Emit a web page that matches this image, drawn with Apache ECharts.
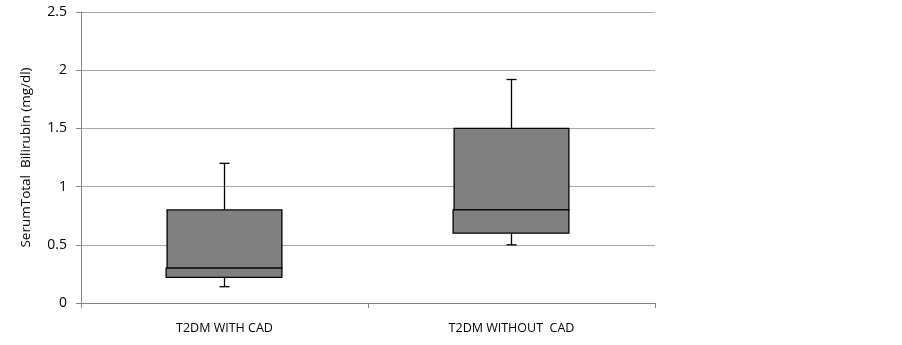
<!DOCTYPE html>
<html>
<head>
<meta charset="utf-8">
<script src="https://cdn.jsdelivr.net/npm/echarts@6/dist/echarts.min.js"></script>
<style>html,body{margin:0;padding:0;background:#fff;}#c{width:902px;height:345px;}</style>
</head>
<body>
<div id="c"></div>
<script>
var categories = ['T2DM WITH CAD', 'T2DM WITHOUT  CAD'];
var mins = [0.14, 0.50];
var q1s = [0.22, 0.60];
var medians = [0.30, 0.80];
var q3s = [0.80, 1.50];
var maxs = [1.20, 1.92];
var yTicks = [0, 0.5, 1, 1.5, 2, 2.5];

var data = categories.map(function (c, i) {
  return [i, mins[i], q1s[i], medians[i], q3s[i], maxs[i]];
});

var chart = echarts.init(document.getElementById('c'));
var font = 'Open Sans';
chart.setOption({
  animation: false,
  grid: { left: 81, right: 247, top: 12, bottom: 42 },
  xAxis: {
    type: 'category',
    data: categories,
    axisLine: { lineStyle: { color: '#868686', width: 1 } },
    axisTick: { show: true, length: 5, lineStyle: { color: '#868686' } },
    axisLabel: { color: '#000', fontFamily: font, fontSize: 12.5, margin: 19 }
  },
  yAxis: {
    type: 'value',
    min: 0, max: 2.5, interval: 0.5,
    name: 'SerumTotal  Bilirubin (mg/dl)',
    nameLocation: 'middle',
    nameGap: 48,
    nameTextStyle: { color: '#000', fontFamily: font, fontSize: 13.5 },
    axisLine: { show: true, lineStyle: { color: '#868686' } },
    axisTick: { show: true, length: 5, lineStyle: { color: '#868686' } },
    axisLabel: {
      color: '#000', fontFamily: font, fontSize: 14, margin: 14,
      formatter: function (v) { return yTicks.indexOf(v) >= 0 ? String(v) : ''; }
    },
    splitLine: { show: true, lineStyle: { color: '#a6a6a6', width: 1 } }
  },
  series: [{
    type: 'custom',
    data: data,
    renderItem: function (params, api) {
      var idx = api.value(0);
      var pMin = api.coord([idx, api.value(1)]);
      var pQ1 = api.coord([idx, api.value(2)]);
      var pMed = api.coord([idx, api.value(3)]);
      var pQ3 = api.coord([idx, api.value(4)]);
      var pMax = api.coord([idx, api.value(5)]);
      var bw = api.size([1, 0])[0] * 0.4;
      var x = pMed[0];
      var cap = 5;
      var ls = { stroke: '#000', lineWidth: 1.3 };
      return {
        type: 'group',
        children: [
          { type: 'line', shape: { x1: x, y1: pMax[1], x2: x, y2: pQ3[1] }, style: ls },
          { type: 'line', shape: { x1: x - cap, y1: pMax[1], x2: x + cap, y2: pMax[1] }, style: ls },
          { type: 'line', shape: { x1: x, y1: pQ1[1], x2: x, y2: pMin[1] }, style: ls },
          { type: 'line', shape: { x1: x - cap, y1: pMin[1], x2: x + cap, y2: pMin[1] }, style: ls },
          { type: 'rect', shape: { x: x - bw / 2, y: pQ3[1], width: bw, height: pMed[1] - pQ3[1] },
            style: { fill: '#808080', stroke: '#000', lineWidth: 1.3 } },
          { type: 'rect', shape: { x: x - bw / 2 - 1, y: pMed[1], width: bw + 1, height: pQ1[1] - pMed[1] },
            style: { fill: '#808080', stroke: '#000', lineWidth: 1.3 } }
        ]
      };
    }
  }]
});
</script>
</body>
</html>
